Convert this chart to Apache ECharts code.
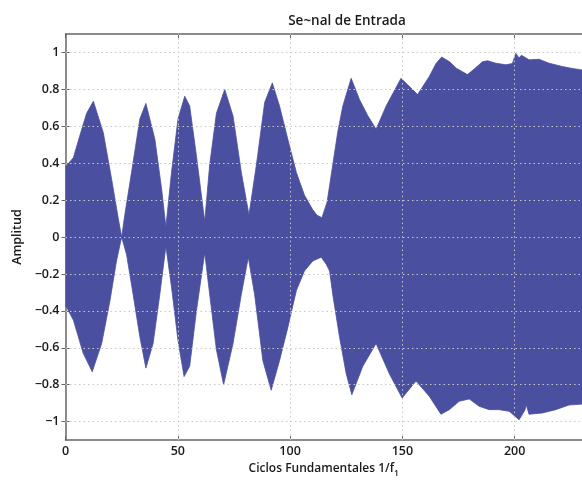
<!DOCTYPE html>
<html>
<head>
<meta charset="utf-8">
<script src="https://cdn.jsdelivr.net/npm/echarts@6/dist/echarts.min.js"></script>
<style>
html,body{margin:0;padding:0;background:#fff;}
#chart{width:582px;height:483px;}
</style>
</head>
<body>
<div id="chart"></div>
<script>
// Envelope of the input signal
var upperX = [0, 3.5, 6.4, 9.4, 12.4, 16.8, 20.5, 23.5, 25, 26.4, 29.4, 33.1, 35.8, 39.8, 42.8, 44.7, 47.2, 50.1, 53.1, 55.3, 58.3, 62, 64.2, 67.2, 70.9, 74.6, 78.3, 81.7, 85, 88.7, 92.1, 95.3, 99, 102.8, 106.4, 110, 112, 114.2, 116.5, 119, 121.2, 123.5, 127.2, 130.9, 134.5, 138.3, 142.8, 149.4, 156.8, 162, 165, 167.5, 171, 174, 179, 182, 185.7, 188, 191.6, 196.1, 199, 200.5, 202, 203, 206.4, 210.9, 215.3, 221.2, 225, 230];
var upperY = [0.38, 0.43, 0.55, 0.67, 0.736, 0.567, 0.316, 0.10, 0.0, 0.12, 0.35, 0.64, 0.724, 0.53, 0.26, 0.055, 0.35, 0.64, 0.763, 0.71, 0.44, 0.084, 0.39, 0.67, 0.80, 0.656, 0.35, 0.12, 0.39, 0.73, 0.835, 0.71, 0.53, 0.35, 0.227, 0.15, 0.118, 0.105, 0.19, 0.39, 0.567, 0.71, 0.86, 0.745, 0.66, 0.584, 0.71, 0.86, 0.772, 0.87, 0.94, 0.975, 0.95, 0.915, 0.88, 0.91, 0.95, 0.955, 0.942, 0.933, 0.94, 0.995, 0.97, 0.985, 0.96, 0.963, 0.942, 0.924, 0.915, 0.905];
var lowerX = [0, 3.5, 7.9, 11.9, 16.1, 19.8, 22.7, 25, 27.2, 30.1, 33.1, 35.8, 39, 42, 44.7, 47.2, 50.1, 52.8, 55.3, 58.3, 62, 64.2, 67.2, 70.4, 74.6, 78.3, 81.4, 84.2, 87.9, 91.6, 95.3, 99, 102.8, 106.4, 110.1, 113.9, 116.1, 117.6, 119, 122, 125, 127.5, 132.4, 138.3, 144.2, 149.9, 156.1, 162, 167.2, 170.9, 175.3, 179.8, 184.2, 188.7, 193.1, 197.6, 202, 204.5, 205.2, 206.4, 212.4, 218.3, 224.2, 230];
var lowerY = [-0.37, -0.45, -0.63, -0.73, -0.577, -0.345, -0.13, 0.0, -0.095, -0.31, -0.54, -0.71, -0.577, -0.31, -0.05, -0.27, -0.56, -0.756, -0.70, -0.40, -0.085, -0.31, -0.61, -0.80, -0.577, -0.31, -0.11, -0.31, -0.67, -0.83, -0.67, -0.49, -0.29, -0.184, -0.13, -0.109, -0.148, -0.184, -0.31, -0.54, -0.74, -0.854, -0.70, -0.577, -0.74, -0.872, -0.78, -0.863, -0.96, -0.935, -0.89, -0.877, -0.917, -0.935, -0.935, -0.944, -0.99, -0.94, -0.91, -0.96, -0.953, -0.935, -0.91, -0.905];
var yTicks = [-1, -0.8, -0.6, -0.4, -0.2, 0, 0.2, 0.4, 0.6, 0.8, 1];
var xTicks = [0, 50, 100, 150, 200];

var FILL = '#4a4fa0';
var FONT = 'Open Sans';

function pairs(xs, ys) { return xs.map(function (x, i) { return [x, ys[i]]; }); }
function fmtY(v) { return v < 0 ? '\u2212' + Math.abs(v) : String(v); }

var chart = echarts.init(document.getElementById('chart'), null, { renderer: 'canvas' });
chart.setOption({
  animation: false,
  backgroundColor: '#fff',
  title: {
    text: 'Se~nal de Entrada',
    left: 342, top: 9, textAlign: 'center',
    textStyle: { fontFamily: FONT, fontSize: 13.5, fontWeight: 600, color: '#1a1a1a' }
  },
  grid: { left: 65.5, right: -1, top: 34, bottom: 41, containLabel: false },
  xAxis: [{
    type: 'value', min: 0, max: 230, position: 'bottom',
    name: 'Ciclos Fundamentales 1/f{s|1}', nameLocation: 'middle', nameGap: 17,
    nameTextStyle: { fontFamily: FONT, fontSize: 12, fontWeight: 600, color: '#1a1a1a', verticalAlign: 'top',
      rich: { s: { fontFamily: FONT, fontSize: 8.5, fontWeight: 600, color: '#1a1a1a', verticalAlign: 'bottom', padding: [9, 0, 0, 0] } } },
    axisLine: { show: true, onZero: false, lineStyle: { color: '#666', width: 1.5 } },
    axisTick: { show: true, inside: true, length: 4, customValues: xTicks, lineStyle: { color: '#666' } },
    axisLabel: { show: true, customValues: xTicks, margin: 5, fontFamily: FONT, fontSize: 12.5, fontWeight: 600, color: '#1a1a1a' },
    splitLine: { show: false }
  }, {
    type: 'value', min: 0, max: 230, position: 'top',
    axisLine: { show: true, onZero: false, lineStyle: { color: '#666', width: 1.5 } },
    axisTick: { show: true, inside: true, length: 4, customValues: xTicks, lineStyle: { color: '#666' } },
    axisLabel: { show: false }, splitLine: { show: false }
  }],
  yAxis: [{
    type: 'value', min: -1.1, max: 1.1, position: 'left',
    name: 'Amplitud', nameLocation: 'middle', nameGap: 41,
    nameTextStyle: { fontFamily: FONT, fontSize: 12.5, fontWeight: 600, color: '#1a1a1a' },
    axisLine: { show: true, onZero: false, lineStyle: { color: '#666', width: 1.5 } },
    axisTick: { show: true, inside: true, length: 4, customValues: yTicks, lineStyle: { color: '#666' } },
    axisLabel: { show: true, customValues: yTicks, margin: 6, formatter: fmtY, fontFamily: FONT, fontSize: 12.5, fontWeight: 600, color: '#1a1a1a' },
    splitLine: { show: false }
  }, {
    type: 'value', min: -1.1, max: 1.1, position: 'right',
    axisLine: { show: false },
    axisTick: { show: true, inside: true, length: 4, customValues: yTicks, lineStyle: { color: '#666' } },
    axisLabel: { show: false }, splitLine: { show: false }
  }],
  series: [{
    name: 'grid', type: 'line', data: [], xAxisIndex: 0, yAxisIndex: 0, silent: true, z: 1,
    markLine: {
      silent: true, symbol: 'none', label: { show: false },
      lineStyle: { color: '#c8c8c8', type: [1.5, 3], width: 1 },
      data: yTicks.map(function (v) { return { yAxis: v }; })
        .concat(xTicks.slice(1).map(function (v) { return { xAxis: v }; }))
    }
  }, {
    name: 'upper', type: 'line', data: pairs(upperX, upperY), xAxisIndex: 0, yAxisIndex: 0,
    showSymbol: false, z: 3,
    lineStyle: { color: FILL, width: 0.8 },
    areaStyle: { color: FILL, opacity: 1, origin: 0 }
  }, {
    name: 'lower', type: 'line', data: pairs(lowerX, lowerY), xAxisIndex: 0, yAxisIndex: 0,
    showSymbol: false, z: 3,
    lineStyle: { color: FILL, width: 0.8 },
    areaStyle: { color: FILL, opacity: 1, origin: 0 }
  }]
});
</script>
</body>
</html>
